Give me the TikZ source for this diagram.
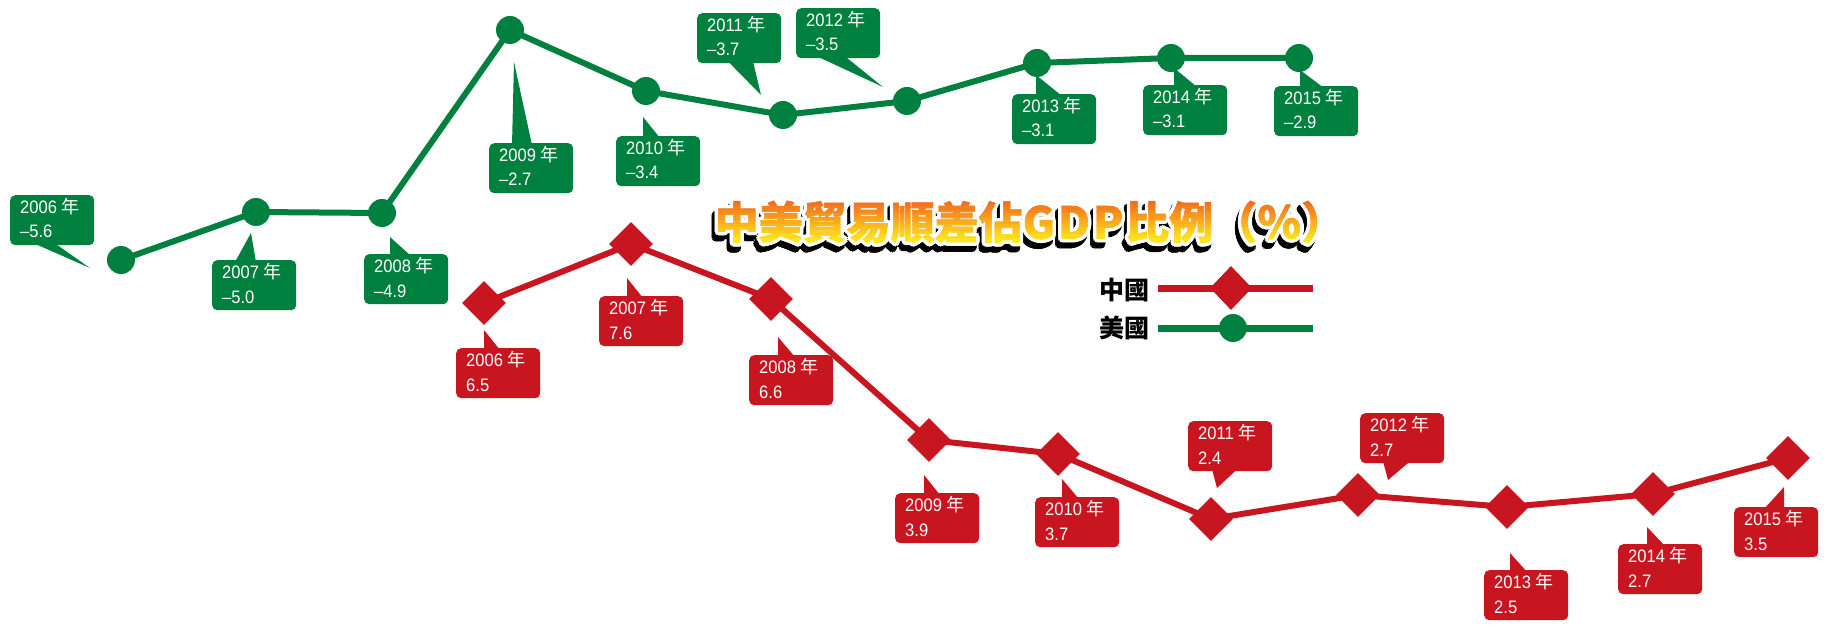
\documentclass[tikz,border=0pt]{standalone}
\usepackage{fontspec}
\setmainfont{Liberation Sans}
\newfontfamily\cjk{Noto Sans CJK TC}
\newfontfamily\lblf{Liberation Sans}[FakeStretch=0.92]
\newfontfamily\cjkttl{Noto Sans CJK TC}[FakeBold=1]
\usetikzlibrary{calc,shapes.geometric}
\definecolor{usgreen}{RGB}{0,128,62}
\definecolor{cnred}{RGB}{200,22,32}
\definecolor{torange}{RGB}{240,105,30}
\definecolor{tyellow}{RGB}{255,228,30}
\newcommand\nian{{\cjk 年}}
\newcommand\lblfont{\fontsize{18}{25}\selectfont\lblf}
\newcommand\ttltext{中美貿易順差佔G\kern3pt D\kern3pt P\kern2pt 比例（％）}
\tikzset{
  callbox/.style={rounded corners=5pt, minimum width=84pt, minimum height=50pt,
    anchor=north west, inner sep=0pt},
  lbl/.style={anchor=base west, inner sep=0pt, text=white, font=\lblfont},
  gdot/.style={circle, fill=usgreen, minimum size=28pt, inner sep=0pt},
  rdia/.style={diamond, fill=cnred, minimum width=44pt, minimum height=44pt, inner sep=0pt},
  usline/.style={draw=usgreen, line width=6pt, line join=round},
  cnline/.style={draw=cnred, line width=6pt, line join=round},
  ttl/.style={inner sep=0pt, anchor=center, font=\fontsize{44}{44}\selectfont\cjkttl\bfseries},
  legtext/.style={inner sep=0pt, anchor=east, font=\fontsize{25}{25}\selectfont\cjk\bfseries, text=black}
}
% name, colour, left x, top y, line 1, line 2, base start, base end, tip
\newcommand\calloutN[9]{%
  \node[callbox, fill=#2] (#1) at (#3,#4) {};
  \coordinate (#1tip) at (#9);
  \fill[#2] ($(#1.north west)+(#7,2)$) -- (#1tip) -- ($(#1.north west)+(#8,2)$) -- cycle;
  \node[lbl] (#1a) at ($(#1.north west)+(10,18.5)$) {#5};
  \node[lbl] (#1b) at ($(#1.north west)+(10,43)$) {#6};}
\newcommand\calloutS[9]{%
  \node[callbox, fill=#2] (#1) at (#3,#4) {};
  \coordinate (#1tip) at (#9);
  \fill[#2] ($(#1.south west)+(#7,-2)$) -- (#1tip) -- ($(#1.south west)+(#8,-2)$) -- cycle;
  \node[lbl] (#1a) at ($(#1.north west)+(10,18.5)$) {#5};
  \node[lbl] (#1b) at ($(#1.north west)+(10,43)$) {#6};}
\begin{document}
\begin{tikzpicture}[x=1pt,y=-1pt]
\useasboundingbox[fill=white] (0,0) rectangle (1846,628);

% ---- US data points
\foreach \n/\x/\y in {06/121/260,07/256/212,08/382/213,09/510/30,10/646/91,11/783/115,12/907/101,13/1037/63,14/1171/58,15/1299/58}
  \coordinate (u\n) at (\x,\y);
% ---- China data points
\foreach \n/\x/\y in {06/484/303,07/631/244,08/771/299,09/929/440,10/1058/454,11/1211/519,12/1358/495,13/1507/507,14/1653/494,15/1788/458}
  \coordinate (c\n) at (\x,\y);

\draw[usline] (u06) -- (u07) -- (u08) -- (u09) -- (u10) -- (u11) -- (u12) -- (u13) -- (u14) -- (u15);
\draw[cnline] (c06) -- (c07) -- (c08) -- (c09) -- (c10) -- (c11) -- (c12) -- (c13) -- (c14) -- (c15);

\foreach \n in {06,07,08,09,10,11,12,13,14,15} {
  \node[gdot] (um\n) at (u\n) {};
  \node[rdia] (cm\n) at (c\n) {};
}

% ---- US callouts
\calloutS{b06}{usgreen}{10}{195}{2006 \nian}{–5.6}{24}{45}{90,268}
\calloutN{b07}{usgreen}{212}{260}{2007 \nian}{–5.0}{23}{44}{251,233}
\calloutN{b08}{usgreen}{364}{254}{2008 \nian}{–4.9}{26}{47}{390,237}
\calloutN{b09}{usgreen}{489}{143}{2009 \nian}{–2.7}{23}{43}{514,62}
\calloutN{b10}{usgreen}{616}{136}{2010 \nian}{–3.4}{27}{44}{643,117}
\calloutS{b11}{usgreen}{697}{13}{2011 \nian}{–3.7}{31}{56}{761,95}
\calloutS{b12}{usgreen}{796}{8}{2012 \nian}{–3.5}{21}{49}{883,87}
\calloutN{b13}{usgreen}{1012}{94}{2013 \nian}{–3.1}{24}{50}{1036,75}
\calloutN{b14}{usgreen}{1143}{85}{2014 \nian}{–3.1}{31}{54}{1174,68}
\calloutN{b15}{usgreen}{1274}{86}{2015 \nian}{–2.9}{26}{50}{1300,70}

% ---- China callouts
\calloutN{r06}{cnred}{456}{348}{2006 \nian}{6.5}{28}{44}{484,330}
\calloutN{r07}{cnred}{599}{296}{2007 \nian}{7.6}{28}{44}{627,278}
\calloutN{r08}{cnred}{749}{355}{2008 \nian}{6.6}{29}{46}{778,337}
\calloutN{r09}{cnred}{895}{493}{2009 \nian}{3.9}{29}{45}{924,475}
\calloutN{r10}{cnred}{1035}{497}{2010 \nian}{3.7}{27}{44}{1062,479}
\calloutS{r11}{cnred}{1188}{421}{2011 \nian}{2.4}{24}{49}{1217,488}
\calloutS{r12}{cnred}{1360}{413}{2012 \nian}{2.7}{23}{50}{1388,480}
\calloutN{r13}{cnred}{1484}{570}{2013 \nian}{2.5}{26}{43}{1510,553}
\calloutN{r14}{cnred}{1618}{544}{2014 \nian}{2.7}{29}{47}{1647,527}
\calloutN{r15}{cnred}{1734}{507}{2015 \nian}{3.5}{30}{50}{1784,487}

% ---- Title
\coordinate (T) at (1030,222);
\foreach \a in {0,30,...,330}
  \node[ttl, text=black] (tsh\a) at ($(T)+(-3,6)+(\a:3.5)$) {\ttltext};
\foreach \a in {0,30,...,330}
  \node[ttl, text=white] (tol\a) at ($(T)+(\a:3.5)$) {\ttltext};
\foreach \i in {0,...,11} {
  \pgfmathsetmacro\pct{100*\i/11}
  \pgfmathsetmacro\ya{\i==0 ? 170 : 200+3.5*\i}
  \pgfmathsetmacro\yb{\i==11 ? 270 : 204.5+3.5*\i}
  \colorlet{bandc}{tyellow!\pct!torange}
  \begin{scope}
    \clip (600,\ya) rectangle (1420,\yb);
    \node[ttl, text=bandc] (tband\i) at (T) {\ttltext};
  \end{scope}
}

% ---- Legend
\node[legtext] (lgcn) at (1150,290) {中國};
\node[legtext] (lgus) at (1150,328) {美國};
\coordinate (lc1) at (1158,288); \coordinate (lc2) at (1313,288);
\coordinate (lu1) at (1158,328); \coordinate (lu2) at (1313,328);
\draw[draw=cnred, line width=7pt] (lc1) -- (lc2);
\draw[draw=usgreen, line width=7pt] (lu1) -- (lu2);
\node[rdia, minimum width=42pt, minimum height=44pt] (lgcnm) at (1231,288) {};
\node[gdot] (lgusm) at (1233,328) {};
\end{tikzpicture}
\end{document}
